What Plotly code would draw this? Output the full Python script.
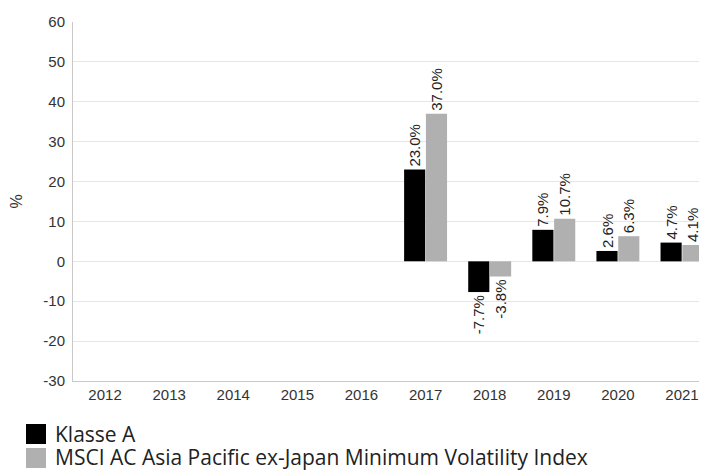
import plotly.graph_objects as go

years = ["2012", "2013", "2014", "2015", "2016", "2017", "2018", "2019", "2020", "2021"]
klasse_a = [None, None, None, None, None, 23.0, -7.7, 7.9, 2.6, 4.7]
msci = [None, None, None, None, None, 37.0, -3.8, 10.7, 6.3, 4.1]
series_names = ["Klasse A", "MSCI AC Asia Pacific ex-Japan Minimum Volatility Index"]
series_colors = ["#000000", "#b0b0b0"]
y_ticks = [-30, -20, -10, 0, 10, 20, 30, 40, 50, 60]

# the page body has an 8px margin; figure size and positions compensate for it
OFF = 8
FW, FH = 707 - OFF, 475 - OFF
L, T, W, H = 73 - OFF, 22 - OFF, 634, 359


def px_x(px):
    return (px - OFF - L) / W


def px_y(py):
    return (T + H - (py - OFF)) / H


def labels(vals):
    return ["" if v is None else f"{v:.1f}%" for v in vals]


fig = go.Figure()
for name, vals, color in zip(series_names, [klasse_a, msci], series_colors):
    fig.add_trace(go.Bar(
        x=years, y=vals, name=name,
        marker=dict(color=color, line=dict(width=0)),
        text=labels(vals), textposition="outside", textangle=-90,
        textfont=dict(family="Liberation Sans, Arial", size=15, color="#222222"),
        cliponaxis=False, showlegend=False,
    ))

# custom legend (large squares like the reference)
legend_rows = [(424, 444, 434), (448, 468, 457)]
for (ytop, ybot, ymid), name, color in zip(legend_rows, series_names, series_colors):
    fig.add_shape(type="rect", xref="paper", yref="paper",
                  x0=px_x(26), x1=px_x(46), y0=px_y(ybot), y1=px_y(ytop),
                  fillcolor=color, line=dict(width=0))
    fig.add_annotation(xref="paper", yref="paper", x=px_x(53), y=px_y(ymid),
                       xanchor="left", yanchor="middle", showarrow=False,
                       text=name,
                       font=dict(family="Open Sans, Noto Sans", size=21, color="#222222"))

fig.update_layout(
    width=FW, height=FH,
    margin=dict(l=L, r=FW - L - W, t=T, b=FH - T - H, autoexpand=False),
    paper_bgcolor="white", plot_bgcolor="white",
    barmode="group", bargap=0.32, bargroupgap=0.03,
    font=dict(family="Liberation Sans, Arial", size=15, color="#333333"),
    xaxis=dict(
        type="category", range=[-0.5, 9.39], automargin=False,
        showline=True, linecolor="#c8c8c8", linewidth=1,
        showgrid=False, ticks="", tickfont=dict(size=15, color="#333333"),
    ),
    yaxis=dict(
        range=[-30, 60], tickvals=y_ticks, ticktext=[str(v) for v in y_ticks],
        automargin=False,
        showline=True, linecolor="#c8c8c8", linewidth=1,
        gridcolor="#e6e6e6", zeroline=False, ticks="",
        ticklabelstandoff=4,
        tickfont=dict(size=15, color="#333333"),
        title=dict(text="%", font=dict(size=16, color="#333333"), standoff=16),
    ),
    uniformtext=dict(mode="show", minsize=15),
)

fig.write_html("out.html")
